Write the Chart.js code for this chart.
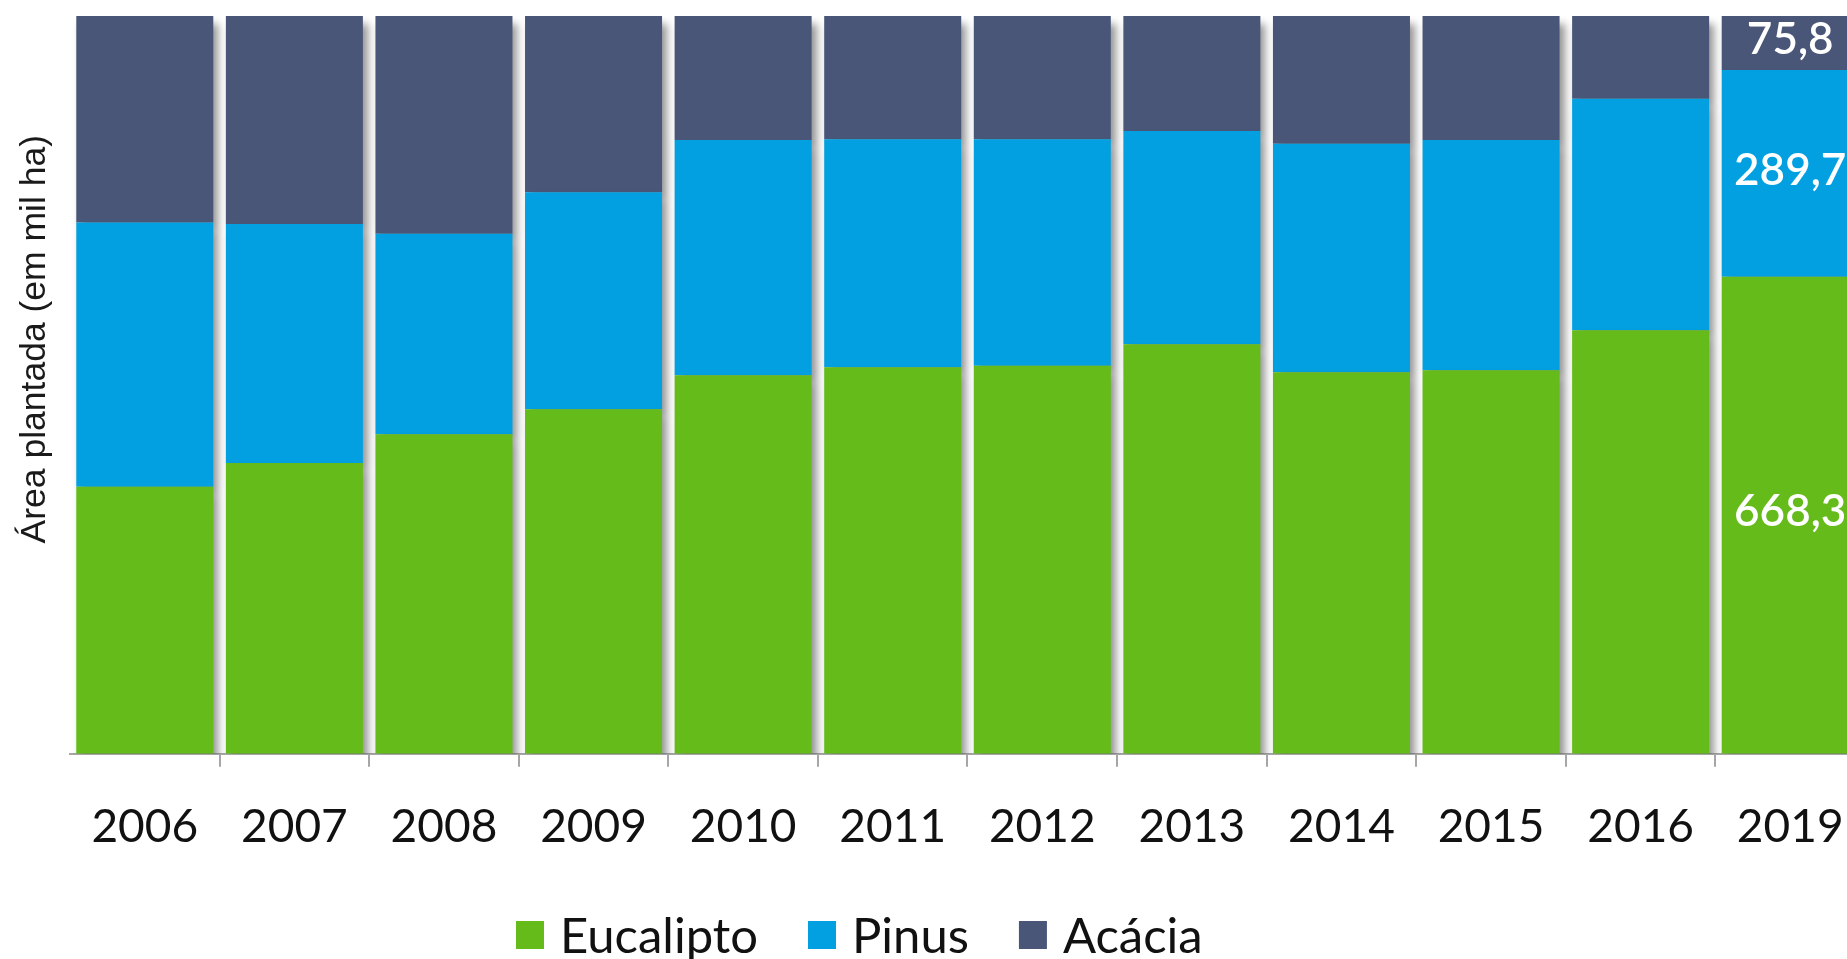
<!DOCTYPE html>
<html><head><meta charset="utf-8">
<script src="https://cdn.jsdelivr.net/npm/chart.js@4.4.1/dist/chart.umd.min.js"></script>
<style>
html,body{margin:0;padding:0;background:#fff;overflow:hidden;width:1847px;height:959px}
#wrap{position:absolute;left:0;top:0;width:1900px;height:959px}
</style></head>
<body><div id="wrap"><canvas id="c" width="1900" height="959"></canvas></div>
<script>
// Categories
const years = ['2006','2007','2008','2009','2010','2011','2012','2013','2014','2015','2016','2019'];
// Shares of planted area (%) (100% stacked bars)
const eucalipto = [36.2, 39.4, 43.3, 46.7, 51.3, 52.4, 52.6, 55.5, 51.7, 52.0, 57.4, 64.65];
const pinus     = [35.8, 32.4, 27.2, 29.4, 31.9, 30.9, 30.7, 28.9, 31.0, 31.2, 31.4, 28.02];
const acacia    = [28.0, 28.2, 29.5, 23.9, 16.8, 16.7, 16.7, 15.6, 17.3, 16.8, 11.2, 7.33];
// Value labels shown on the last bar (mil ha), in dataset order
const lastBarLabels = ['668,3', '289,7', '75,8'];
const seriesNames = ['Eucalipto', 'Pinus', 'Acácia'];
const yTitle = 'Área plantada (em mil ha)';

const colors = ['#65BB1A', '#02A0E0', '#4A5678'];

const shadowAndLabels = {
  id: 'shadowAndLabels',
  beforeDatasetsDraw(chart) {
    const c = chart.ctx;
    c.save();
    c.shadowColor = 'rgba(0,0,0,0.42)';
    c.shadowBlur = 8;
    c.shadowOffsetX = 5;
    c.shadowOffsetY = 8;
  },
  afterDatasetsDraw(chart) {
    const c = chart.ctx;
    c.restore();
    c.save();
    c.fillStyle = '#ffffff';
    c.font = '600 44px Lato';
    c.textAlign = 'center';
    c.textBaseline = 'middle';
    chart.data.datasets.forEach((ds, i) => {
      const meta = chart.getDatasetMeta(i);
      const el = meta.data[meta.data.length - 1];
      if (!el) return;
      const p = el.getProps(['x', 'y', 'base'], true);
      c.fillText(lastBarLabels[i], p.x, (p.y + p.base) / 2 - 3);
    });
    c.restore();
  },
  afterDraw(chart) {
    const c = chart.ctx;
    const a = chart.chartArea;
    // y axis title
    c.save();
    c.translate(a.left - 35, a.top + 0.438 * (a.bottom - a.top));
    c.rotate(-Math.PI / 2);
    c.font = '35.5px "Liberation Sans"';
    c.fillStyle = '#1a1a1a';
    c.textAlign = 'center';
    c.textBaseline = 'middle';
    c.fillText(yTitle, 0, 0);
    c.restore();
    // legend
    c.save();
    c.font = '49px Lato';
    c.textBaseline = 'middle';
    c.textAlign = 'left';
    let x = 516;
    const yc = 935;
    chart.data.datasets.forEach((ds) => {
      c.fillStyle = ds.backgroundColor;
      c.fillRect(x, yc - 14, 28, 28);
      x += 28 + 16;
      c.fillStyle = '#111111';
      c.fillText(ds.label, x, yc + 2);
      x += c.measureText(ds.label).width + 50;
    });
    c.restore();
  }
};

const datasets = [eucalipto, pinus, acacia].map((d, i) => ({
  label: seriesNames[i],
  data: d,
  backgroundColor: colors[i],
  borderWidth: 0,
  barPercentage: 0.916,
  categoryPercentage: 1.0
}));

new Chart(document.getElementById('c'), {
  type: 'bar',
  data: { labels: years, datasets },
  options: {
    responsive: false,
    animation: false,
    devicePixelRatio: 1,
    layout: { padding: { left: 70, right: 35, top: 16, bottom: 71 } },
    plugins: { legend: { display: false }, tooltip: { enabled: false } },
    scales: {
      x: {
        stacked: true,
        offset: true,
        grid: {
          display: true,
          offset: true,
          drawOnChartArea: false,
          drawTicks: true,
          tickLength: 13,
          lineWidth: 2,
          color: (ctx) => ctx.index === 0 ? 'rgba(0,0,0,0)' : '#a6a6a6'
        },
        border: { display: true, color: '#a6a6a6', width: 2 },
        ticks: {
          color: '#111111',
          padding: 33,
          maxRotation: 0,
          autoSkip: false,
          font: { family: 'Lato', size: 46 }
        }
      },
      y: { stacked: true, min: 0, max: 100, display: false }
    }
  },
  plugins: [shadowAndLabels]
});
</script>
</body></html>
